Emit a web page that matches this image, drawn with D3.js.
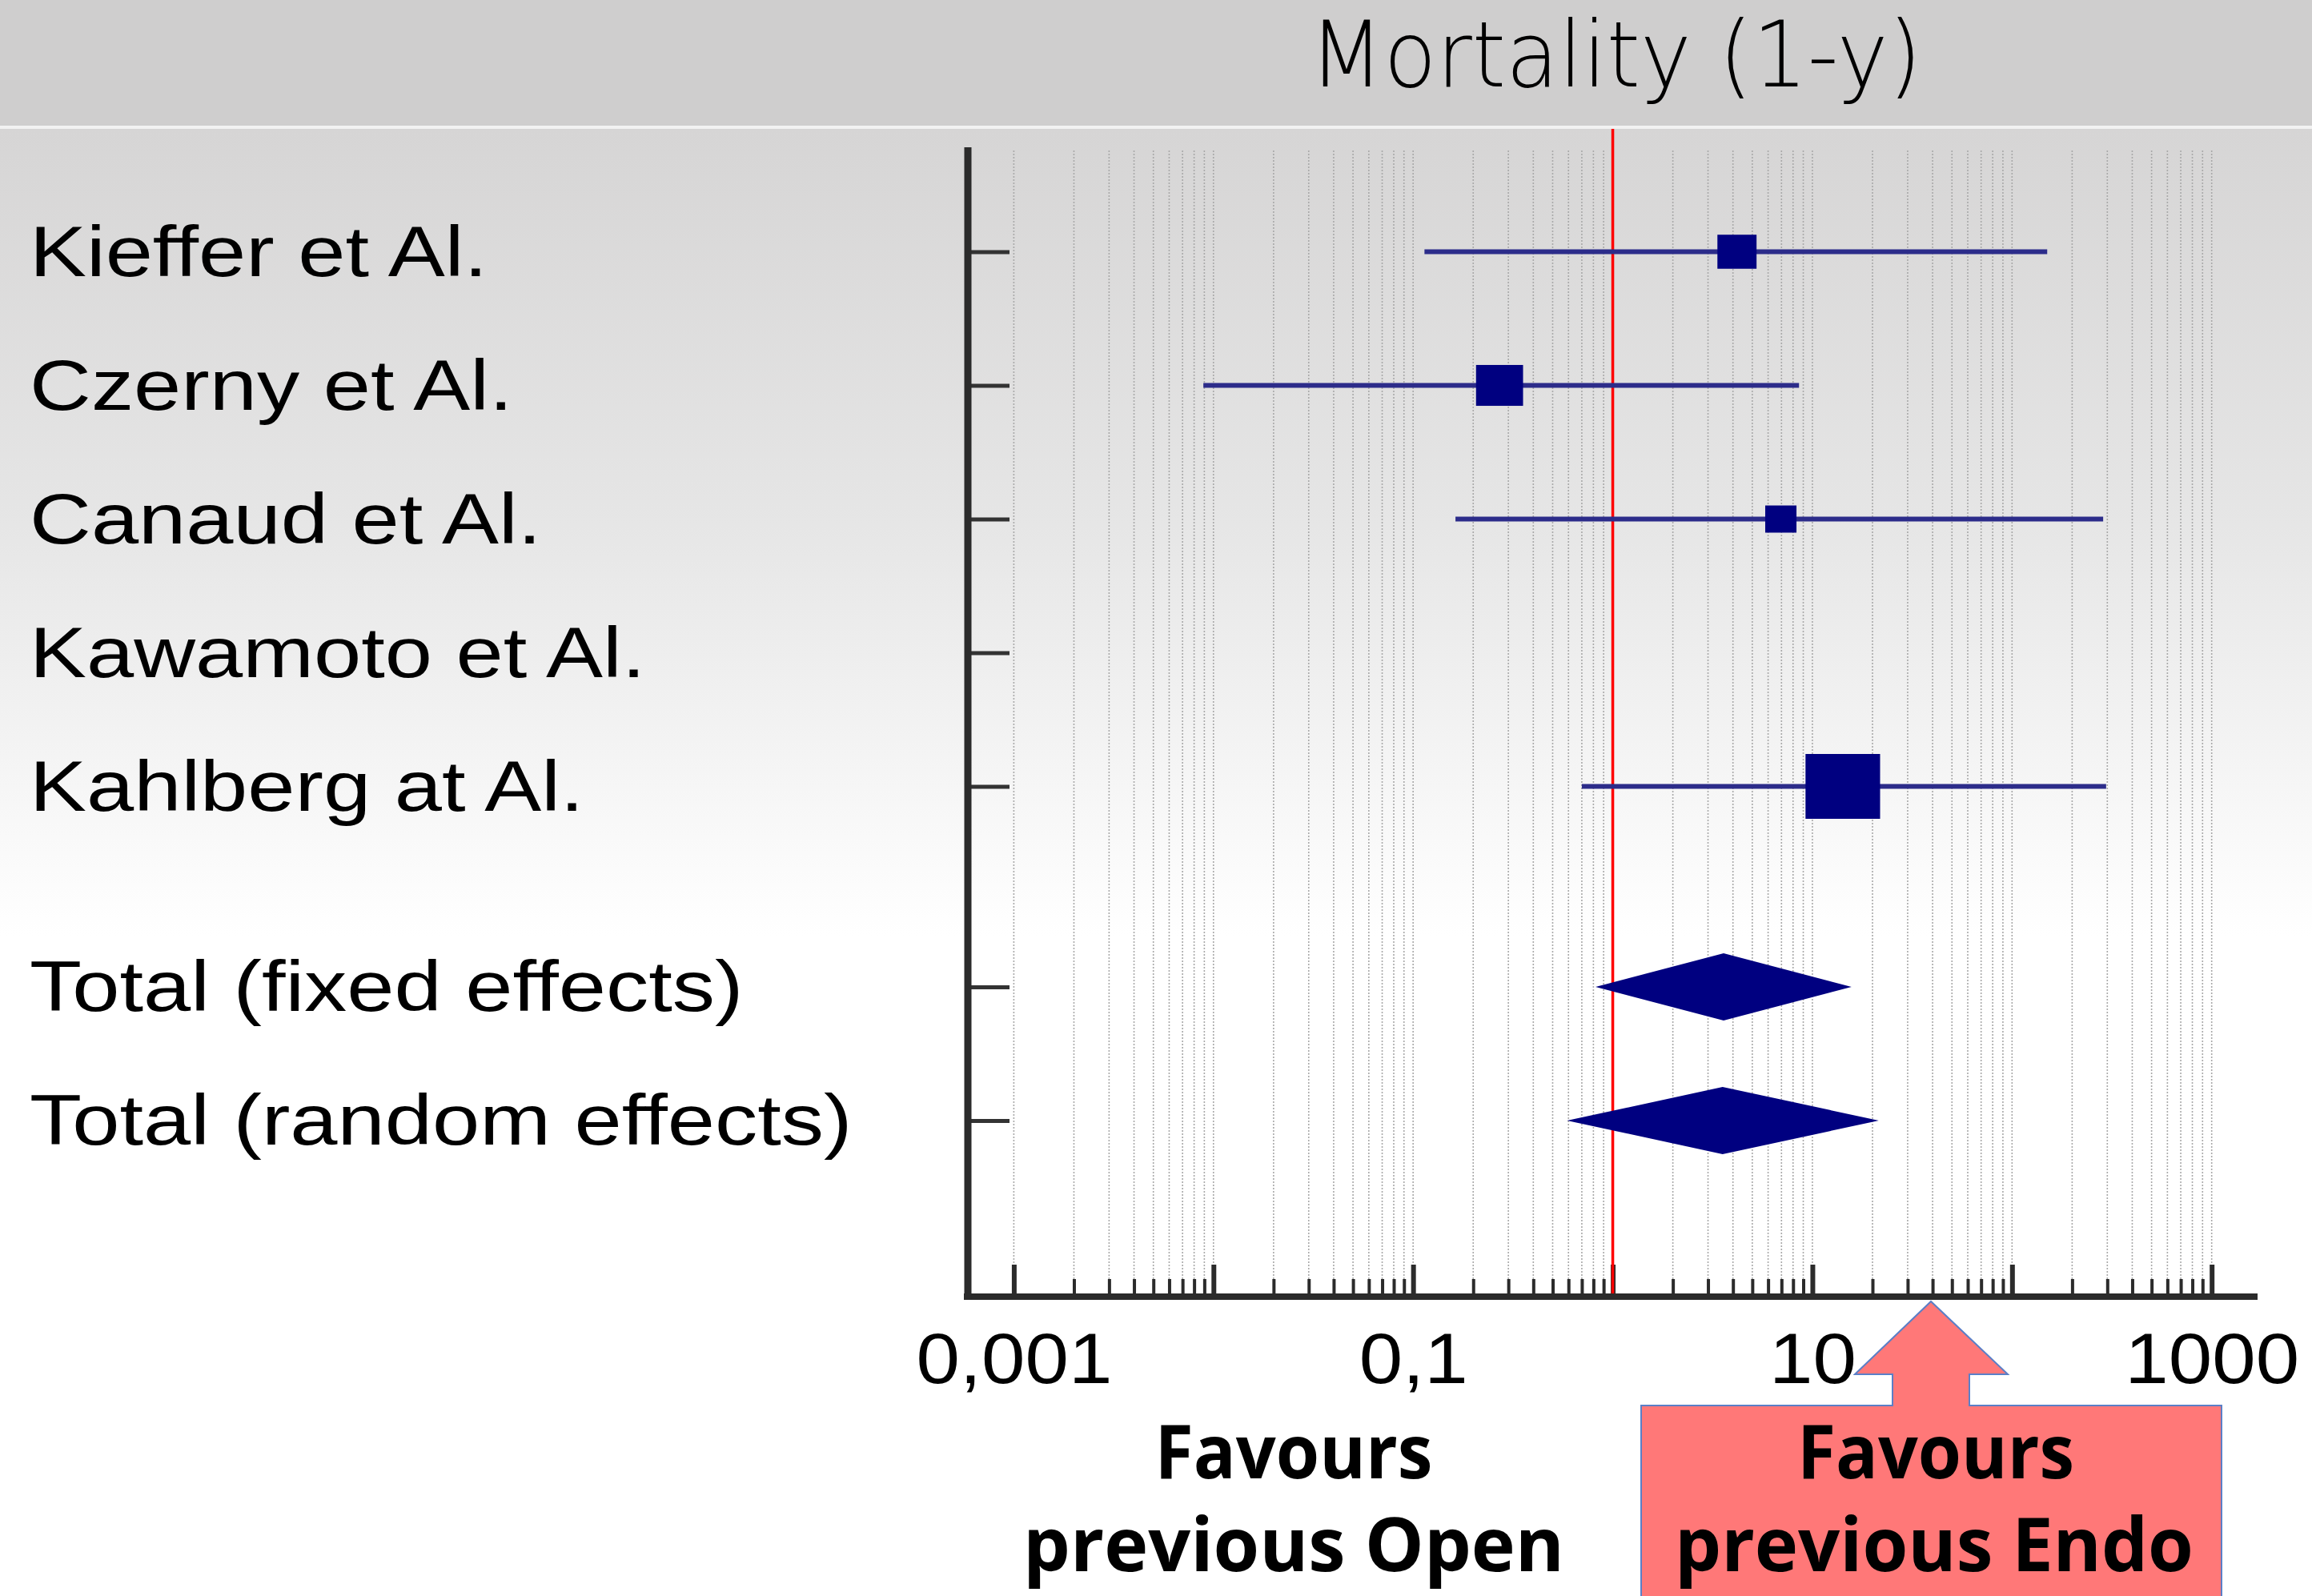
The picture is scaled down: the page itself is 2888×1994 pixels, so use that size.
<!DOCTYPE html>
<html>
<head>
<meta charset="utf-8">
<script src="https://cdn.jsdelivr.net/npm/d3@7"></script>
<style>
  html, body { margin: 0; padding: 0; background: #fff; }
  svg { display: block; }
</style>
</head>
<body>
<script>
// study rows
var studies = ["Kieffer et Al.", "Czerny et Al.", "Canaud et Al.", "Kawamoto et Al.", "Kahlberg at Al."];
var studyOR = [4.19, 0.271, 6.95, null, 14.2];
var studyLow = [0.114, 0.0089, 0.163, null, 0.70];
var studyHigh = [150, 8.57, 286, null, 296];
var studyWeight = [14.9, 21.5, 9.5, null, 54.1];

// pooled rows
var totals = ["Total (fixed effects)", "Total (random effects)"];
var totalOR = [3.59, 3.55];
var totalLow = [0.82, 0.59];
var totalHigh = [15.7, 21.5];

var rowPos = [0, 1, 2, 3, 4, 5.5, 6.5];
var tickLabels = [0.001, 0.1, 10, 1000];

var width = 2888, height = 1994;

var svg = d3.select("body").append("svg")
    .attr("width", width)
    .attr("height", height);

// background
var defs = svg.append("defs");
var grad = defs.append("linearGradient")
    .attr("id", "bg").attr("x1", 0).attr("y1", 0).attr("x2", 0).attr("y2", 1);
grad.append("stop").attr("offset", 0).attr("stop-color", "#d6d5d5");
grad.append("stop").attr("offset", 0.27).attr("stop-color", "#e6e6e6");
grad.append("stop").attr("offset", 0.55).attr("stop-color", "#ffffff");

svg.append("rect").attr("x", 0).attr("y", 161).attr("width", width).attr("height", height - 161)
    .attr("fill", "url(#bg)");
svg.append("rect").attr("x", 0).attr("y", 0).attr("width", width).attr("height", 157)
    .attr("fill", "#cfcece");
svg.append("rect").attr("x", 0).attr("y", 157).attr("width", width).attr("height", 4)
    .attr("fill", "#f2f2f2");

svg.append("text")
    .attr("x", 2018).attr("y", 108)
    .attr("text-anchor", "middle")
    .attr("font-family", "'DejaVu Sans', 'Noto Sans', sans-serif")
    .attr("font-weight", 200)
    .attr("font-size", 114)
    .attr("textLength", 765)
    .attr("lengthAdjust", "spacingAndGlyphs")
    .attr("fill", "#000")
    .text("Mortality (1-y)");

// scales
var x = d3.scaleLog().domain([0.001, 1000]).range([1266.4, 2762.7]);
var y = d3.scaleLinear().domain([0, 6.5]).range([314.5, 1400]);

var plotLeft = 1209, plotTop = 184, plotBottom = 1620, plotRight = 2820;

// minor grid values
var gridVals = [];
d3.range(-3, 3).forEach(function (k) {
    d3.range(1, 10).forEach(function (m) { gridVals.push(m * Math.pow(10, k)); });
});
gridVals.push(1000);
var isDecade = function (v) { return Math.abs(Math.log10(v) - Math.round(Math.log10(v))) < 1e-9; };

svg.append("g").selectAll("line")
    .data(gridVals)
    .enter().append("line")
    .attr("x1", d => x(d)).attr("x2", d => x(d))
    .attr("y1", plotTop + 4).attr("y2", plotBottom)
    .attr("stroke", "#a9a9a9")
    .attr("stroke-width", 1.6)
    .attr("stroke-dasharray", "2,2");

// x axis
var locale = d3.formatLocale({ decimal: ",", thousands: "", grouping: [3], currency: ["", ""] });
var fmt = locale.format("~g");

var xAxis = svg.append("g")
    .attr("transform", "translate(0," + plotBottom + ")")
    .call(d3.axisBottom(x)
        .tickValues(gridVals)
        .tickSizeInner(-22)
        .tickSizeOuter(0)
        .tickFormat(d => tickLabels.some(t => Math.abs(t - d) < 1e-12) ? fmt(d) : ""));
xAxis.select(".domain").remove();
xAxis.selectAll(".tick line")
    .attr("stroke", "#2b2b2b")
    .attr("stroke-width", d => isDecade(d) ? 6 : 4)
    .attr("y2", d => isDecade(d) ? -40 : -22);
xAxis.selectAll(".tick text")
    .attr("y", 108).attr("dy", 0)
    .attr("transform", "scale(1.1,1)")
    .attr("font-family", "'Liberation Sans', Arial, sans-serif")
    .attr("font-size", 89)
    .attr("fill", "#000");

svg.append("line")
    .attr("x1", plotLeft - 5).attr("x2", plotRight)
    .attr("y1", plotBottom).attr("y2", plotBottom)
    .attr("stroke", "#2b2b2b").attr("stroke-width", 8);

// y axis
var yAxis = svg.append("g")
    .attr("transform", "translate(" + plotLeft + ",0)")
    .call(d3.axisRight(y).tickValues(rowPos).tickSize(52).tickFormat(""));
yAxis.select(".domain").remove();
yAxis.selectAll(".tick line").attr("stroke", "#333").attr("stroke-width", 5);

svg.append("line")
    .attr("x1", plotLeft).attr("x2", plotLeft)
    .attr("y1", plotTop).attr("y2", plotBottom + 4)
    .attr("stroke", "#2b2b2b").attr("stroke-width", 9);

// row labels
var labels = studies.concat(totals);
svg.append("g").selectAll("text")
    .data(labels)
    .enter().append("text")
    .attr("transform", (d, i) => "translate(37," + (y(rowPos[i]) + 30) + ") scale(1.21,1)")
    .attr("font-family", "'Liberation Sans', Arial, sans-serif")
    .attr("font-size", 88)
    .attr("fill", "#000")
    .text(d => d);

// reference line at 1
svg.append("line")
    .attr("x1", x(1)).attr("x2", x(1))
    .attr("y1", 161).attr("y2", plotBottom - 4)
    .attr("stroke", "#ff0000").attr("stroke-width", 3.5);

// study CIs and boxes
var studyRows = studies.map(function (s, i) {
    return { name: s, or: studyOR[i], lo: studyLow[i], hi: studyHigh[i], w: studyWeight[i], pos: rowPos[i] };
}).filter(d => d.or !== null);

var boxSize = d3.scaleSqrt().domain([0, d3.max(studyWeight)]).range([0, 81]);

svg.append("g").selectAll("line")
    .data(studyRows)
    .enter().append("line")
    .attr("x1", d => x(d.lo)).attr("x2", d => x(d.hi))
    .attr("y1", d => y(d.pos)).attr("y2", d => y(d.pos))
    .attr("stroke", "#2c2c8a").attr("stroke-width", 6);

svg.append("g").selectAll("rect")
    .data(studyRows)
    .enter().append("rect")
    .attr("x", d => x(d.or) - boxSize(d.w) * 1.15 / 2)
    .attr("y", d => y(d.pos) - boxSize(d.w) / 2)
    .attr("width", d => boxSize(d.w) * 1.15)
    .attr("height", d => boxSize(d.w))
    .attr("fill", "#000080");

// pooled diamonds
var totalRows = totals.map(function (s, i) {
    return { or: totalOR[i], lo: totalLow[i], hi: totalHigh[i], pos: rowPos[studies.length + i] };
});
svg.append("g").selectAll("path")
    .data(totalRows)
    .enter().append("path")
    .attr("d", function (d) {
        var cy = y(d.pos), h = 42;
        return "M" + x(d.lo) + "," + cy + "L" + x(d.or) + "," + (cy - h) +
            "L" + x(d.hi) + "," + cy + "L" + x(d.or) + "," + (cy + h) + "Z";
    })
    .attr("fill", "#000080");

// arrow box
var box = { left: 2050, right: 2775, top: 1756, shaftL: 2364, shaftR: 2460, headL: 2317, headR: 2508, headY: 1717, tipX: 2412, tipY: 1626 };
svg.append("path")
    .attr("d", "M" + box.left + "," + (height + 5) + "L" + box.left + "," + box.top +
        "L" + box.shaftL + "," + box.top + "L" + box.shaftL + "," + box.headY +
        "L" + box.headL + "," + box.headY + "L" + box.tipX + "," + box.tipY +
        "L" + box.headR + "," + box.headY + "L" + box.shaftR + "," + box.headY +
        "L" + box.shaftR + "," + box.top + "L" + box.right + "," + box.top +
        "L" + box.right + "," + (height + 5) + "Z")
    .attr("fill", "#ff7878")
    .attr("stroke", "#5b7fc7")
    .attr("stroke-width", 2);

// favour captions
var favLines = [
    { text: "Favours", x: 1616, y: 1847, w: 347 },
    { text: "previous Open", x: 1616, y: 1963, w: 676 },
    { text: "Favours", x: 2418, y: 1847, w: 346 },
    { text: "previous Endo", x: 2416, y: 1963, w: 648 }
];
svg.append("g").selectAll("text")
    .data(favLines)
    .enter().append("text")
    .attr("x", d => d.x).attr("y", d => d.y)
    .attr("text-anchor", "middle")
    .attr("font-family", "'Open Sans', 'Noto Sans', sans-serif")
    .attr("font-weight", 700)
    .attr("font-size", 94)
    .attr("textLength", d => d.w)
    .attr("lengthAdjust", "spacingAndGlyphs")
    .attr("fill", "#000")
    .text(d => d.text);
</script>
</body>
</html>
